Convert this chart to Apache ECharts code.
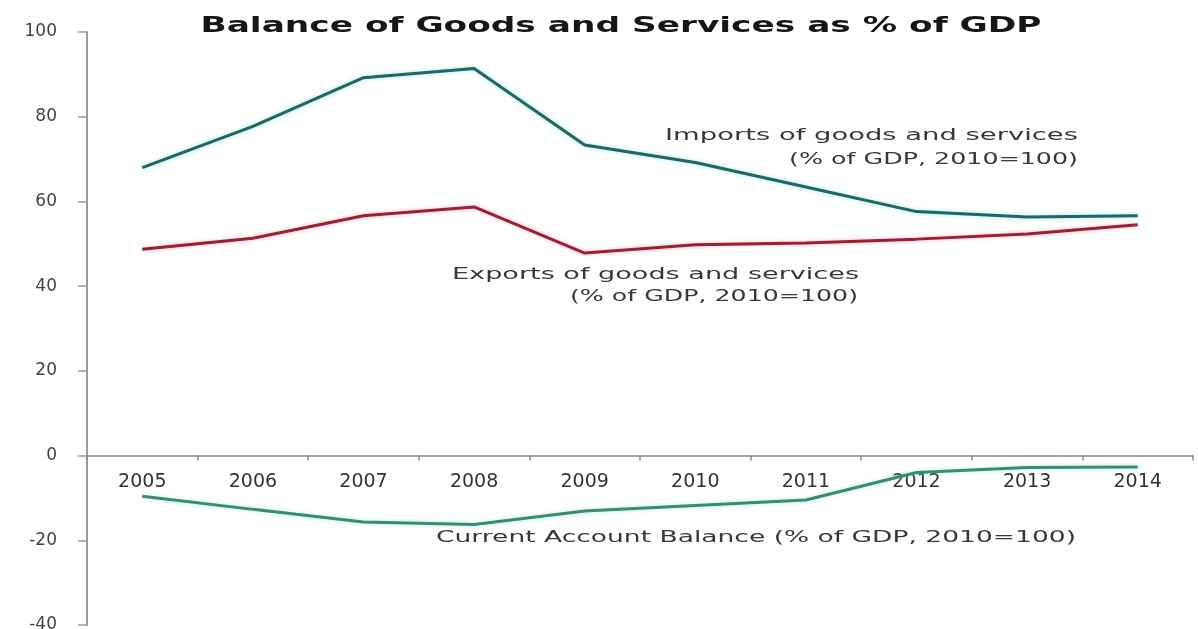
<!DOCTYPE html>
<html>
<head>
<meta charset="utf-8">
<script src="https://cdn.jsdelivr.net/npm/echarts@6/dist/echarts.min.js"></script>
<style>
html,body{margin:0;padding:0;background:#fff;}
#chart{width:1198px;height:629px;}
</style>
</head>
<body>
<div id="chart"></div>
<script>
// ---- data ----
var categories = ['2005','2006','2007','2008','2009','2010','2011','2012','2013','2014'];
var imports = [68.0, 77.7, 89.2, 91.4, 73.3, 69.2, 63.4, 57.6, 56.3, 56.6];
var exports = [48.7, 51.3, 56.6, 58.7, 47.8, 49.8, 50.2, 51.1, 52.3, 54.5];
var currentAccount = [-9.6, -12.7, -15.7, -16.3, -13.1, -11.8, -10.5, -4.0, -2.8, -2.7];
var yTicks = [-40, -20, 0, 20, 40, 60, 80, 100];

var titleText = 'Balance of Goods and Services as % of GDP';
var importsLabel = ['Imports of goods and services', '(% of GDP, 2010=100)'];
var exportsLabel = ['Exports of goods and services', '(% of GDP, 2010=100)'];
var caLabel = 'Current Account Balance (% of GDP, 2010=100)';

// ---- helpers ----
var measureCtx = document.createElement('canvas').getContext('2d');
function stretched(str, font, x, y, align, targetWidth, fill) {
  measureCtx.font = font;
  var w = measureCtx.measureText(str).width;
  return {
    type: 'text', x: x, y: y, scaleX: targetWidth / w, silent: true,
    style: { text: str, font: font, fill: fill, align: align, verticalAlign: 'middle' }
  };
}
var annFont = '15px "DejaVu Sans"';
var annColor = '#383838';
var gridBottom = 4;

var chart = echarts.init(document.getElementById('chart'));
chart.setOption({
  animation: false,
  backgroundColor: '#fff',
  grid: { left: 87, right: 5, top: 32, bottom: gridBottom, containLabel: false, outerBoundsMode: 'none' },
  xAxis: {
    type: 'category',
    data: categories,
    boundaryGap: true,
    axisLine: { onZero: false, lineStyle: { color: '#8a8a8a', width: 1.5 } },
    axisTick: { show: true, length: 5, lineStyle: { color: '#8a8a8a', width: 1.5 } },
    axisLabel: { margin: 17, color: '#333', fontSize: 19, fontFamily: 'DejaVu Sans' },
    splitLine: { show: false }
  },
  yAxis: {
    type: 'value',
    min: yTicks[0], max: yTicks[yTicks.length - 1], interval: 20,
    axisLine: { show: true, onZero: false, lineStyle: { color: '#9a9a9a', width: 2 } },
    axisTick: { show: true, length: 9, lineStyle: { color: '#9a9a9a', width: 1.5 } },
    axisLabel: { margin: 30, color: '#444', fontSize: 17, fontFamily: 'DejaVu Sans' },
    splitLine: { show: false }
  },
  series: [
    { name: 'Imports', type: 'line', data: imports, symbol: 'none',
      lineStyle: { color: '#23655f', width: 3, shadowColor: 'rgba(80,220,220,0.6)', shadowBlur: 4 } },
    { name: 'Exports', type: 'line', data: exports, symbol: 'none',
      lineStyle: { color: '#9c1f33', width: 3, shadowColor: 'rgba(255,120,150,0.5)', shadowBlur: 4 } },
    { name: 'Current Account', type: 'line', data: currentAccount, symbol: 'none',
      lineStyle: { color: '#3b8c6e', width: 3, shadowColor: 'rgba(120,230,200,0.6)', shadowBlur: 4 } }
  ],
  graphic: [
    stretched(titleText, 'bold 21px "DejaVu Sans"', 621, 27, 'center', 841, '#161616'),
    stretched(importsLabel[0], annFont, 1078, 136, 'right', 413, annColor),
    stretched(importsLabel[1], annFont, 1078, 160, 'right', 289, annColor),
    stretched(exportsLabel[0], annFont, 859, 275, 'right', 407, annColor),
    stretched(exportsLabel[1], annFont, 858, 297, 'right', 288, annColor),
    stretched(caLabel, annFont, 436, 538, 'left', 640, annColor)
  ]
});

// Move the category axis (line, ticks and labels) up to the y = 0 position
var zeroY = chart.convertToPixel({ yAxisIndex: 0 }, 0);
var bottomY = chart.getHeight() - gridBottom;
chart.setOption({ xAxis: { offset: zeroY - bottomY } });
</script>
</body>
</html>
